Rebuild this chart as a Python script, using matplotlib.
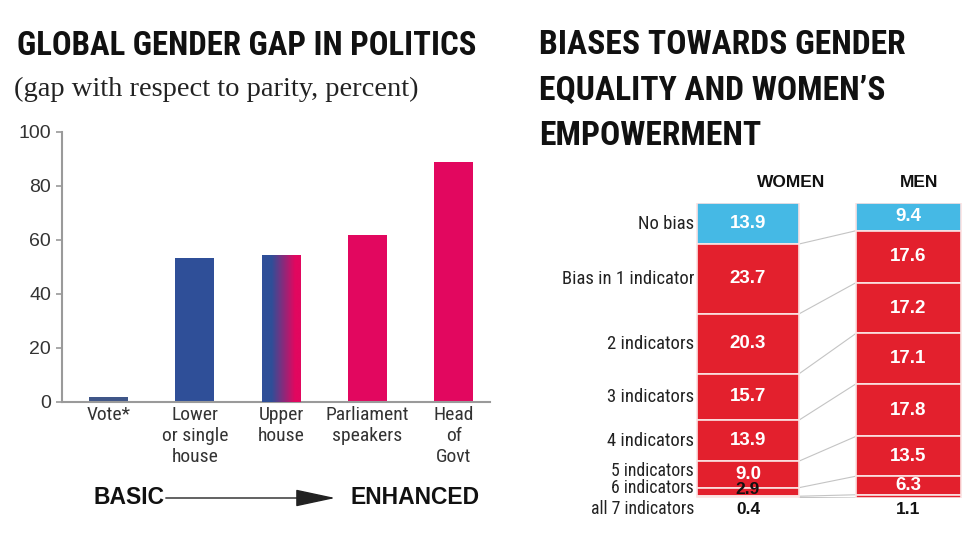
import numpy as np
import matplotlib
matplotlib.use('Agg')
import matplotlib.pyplot as plt
from matplotlib import font_manager
from matplotlib.colors import LinearSegmentedColormap

# ---- data ----
pol_labels = ['Vote*', 'Lower\nor single\nhouse', 'Upper\nhouse', 'Parliament\nspeakers', 'Head\nof\nGovt']
pol_gap = [2.0, 53.4, 54.3, 62.0, 88.9]
pol_yticks = [0, 20, 40, 60, 80, 100]

bias_rows = ['No bias', 'Bias in 1 indicator', '2 indicators', '3 indicators',
             '4 indicators', '5 indicators', '6 indicators', 'all 7 indicators']
women = [13.9, 23.7, 20.3, 15.7, 13.9, 9.0, 2.9, 0.4]
men = [9.4, 17.6, 17.2, 17.1, 17.8, 13.5, 6.3, 1.1]
groups = ['WOMEN', 'MEN']

BLUE = '#2f4f98'
PINK = '#e2075f'
SKY = '#45b9e5'
RED = '#e3202d'

names = {f.name for f in font_manager.fontManager.ttflist}


def pick(*cands):
    for c in cands:
        if c in names:
            return c
    return 'DejaVu Sans'


NARROW = pick('Roboto Condensed', 'Liberation Sans Narrow', 'DejaVu Sans')
SANS = pick('Liberation Sans', 'DejaVu Sans')
SERIF = pick('Liberation Serif', 'DejaVu Serif')

W, H = 980, 537
fig = plt.figure(figsize=(W / 100, H / 100), dpi=100)


def fx(px):
    return px / W


def fy(py):
    return 1 - py / H


# ---- titles ----
fig.text(fx(17), fy(55), 'GLOBAL GENDER GAP IN POLITICS', family=NARROW, weight='bold',
         size=23.6, color='#111111', va='baseline')
fig.text(fx(14), fy(96), '(gap with respect to parity, percent)', family=SERIF,
         size=20.5, color='#222222', va='baseline')
for i, line in enumerate(['BIASES TOWARDS GENDER', 'EQUALITY AND WOMEN\u2019S', 'EMPOWERMENT']):
    fig.text(fx(539), fy(54 + 45.5 * i), line, family=NARROW, weight='bold',
             size=24.2, color='#111111', va='baseline')

# ---- left: politics gap bars ----
ax = fig.add_axes([fx(62), fy(402), fx(490 - 62), (402 - 132) / H])
x = np.arange(len(pol_gap))
colors = ['#3f5688', BLUE, BLUE, PINK, PINK]
bars = ax.bar(x, pol_gap, width=0.45, color=colors, zorder=2)

# upper house bar fades from blue to pink
cmap = LinearSegmentedColormap.from_list('bp', [(0, BLUE), (0.25, BLUE), (0.85, PINK), (1, PINK)])
b = bars[2]
grad = np.linspace(0, 1, 256).reshape(1, -1)
im = ax.imshow(grad, extent=[b.get_x(), b.get_x() + b.get_width(), 0, b.get_height()],
               aspect='auto', cmap=cmap, zorder=3)
im.set_clip_path(b)

ax.set_xlim(-0.54, 4.42)
ax.set_ylim(0, 100)
ax.set_yticks(pol_yticks)
ax.set_xticks(x)
ax.set_xticklabels(pol_labels, family=NARROW, size=14, color='#333333', linespacing=1.2)
for lab in ax.get_yticklabels():
    lab.set_family(SANS)
ax.tick_params(axis='y', length=4, width=1.2, color='#9a9a9a', labelsize=14,
               labelcolor='#333333', pad=4)
ax.tick_params(axis='x', length=0, pad=3)
for s in ['top', 'right']:
    ax.spines[s].set_visible(False)
for s in ['left', 'bottom']:
    ax.spines[s].set_color('#9a9a9a')
    ax.spines[s].set_linewidth(1.5)

fig.text(fx(93), fy(504), 'BASIC', family=SANS, weight='bold', size=16.5, va='baseline', color='#111111')
fig.text(fx(350), fy(504), 'ENHANCED', family=SANS, weight='bold', size=16.5, va='baseline', color='#111111')
ax.annotate('', xy=(fx(338), fy(498)), xytext=(fx(163), fy(498)),
            xycoords='figure fraction', textcoords='figure fraction',
            arrowprops=dict(arrowstyle='-|>,head_length=1.4,head_width=0.3',
                            color='#222222', lw=1, mutation_scale=18))

# ---- right: stacked bias bars ----
axb = fig.add_axes([fx(690), fy(498), fx(280), 295 / H])
axb.set_xlim(-0.361, 1.383)
axb.set_ylim(100, 0)
axb.axis('off')

widths = [0.636, 0.654]
cum = []
for gi, vals in enumerate([women, men]):
    bottom = np.concatenate([[0], np.cumsum(vals)[:-1]])
    cols = [SKY] + [RED] * (len(vals) - 1)
    axb.bar(gi, vals, bottom=bottom, width=widths[gi], color=cols,
            edgecolor='#fbe3e3', linewidth=1.2, zorder=2)
    total = sum(vals)
    for i, (v, b0) in enumerate(zip(vals, bottom)):
        size = 13.5
        if i == len(vals) - 1:
            yy, c, size = total + 4.0, '#111111', 12.5
        elif v < 5:
            yy, c, size = b0 + v / 2 - 1.0, '#111111', 12.5
        else:
            yy, c = b0 + v / 2, 'white'
        axb.text(gi, yy, f'{v:.1f}', ha='center', va='center', family=SANS,
                 weight='bold', size=size, color=c, zorder=4)
    cum.append(np.cumsum(vals))

# thin lines joining the matching boundaries of both columns
for cw, cm in zip(cum[0], cum[1]):
    axb.plot([widths[0] / 2, 1 - widths[1] / 2], [cw, cm], color='#c4c4c4', lw=0.8, zorder=1)

w_bottom = np.concatenate([[0], cum[0][:-1]])
n = len(women)
for i, (lab, v, b0) in enumerate(zip(bias_rows, women, w_bottom)):
    if i == n - 1:
        yy = sum(women) + 4.0
    elif i >= n - 3:
        yy = b0 + v / 2 - 1.2
    else:
        yy = b0 + v / 2
    axb.text(-0.336, yy, lab, ha='right', va='center', family=NARROW,
             size=(12.8 if i >= n - 3 else 13.4), color='#222222')

for gx, g in zip([0.268, 1.065], groups):
    axb.text(gx, -6.8, g, ha='center', va='center', family=SANS, weight='bold',
             size=12.5, color='#111111')

fig.savefig('out.png', dpi=100)
